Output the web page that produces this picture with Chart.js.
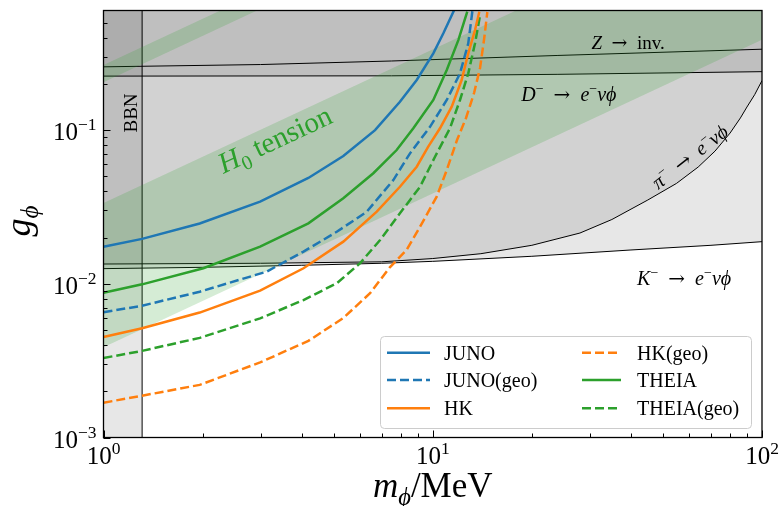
<!DOCTYPE html>
<html>
<head>
<meta charset="utf-8">
<script src="https://cdn.jsdelivr.net/npm/chart.js@4.4.1/dist/chart.umd.min.js"></script>
<style>
html,body{margin:0;padding:0;background:#ffffff;}
#box{position:relative;width:780px;height:506px;}
canvas{display:block;}
</style>
</head>
<body>
<div id="box"><canvas id="chart" width="780" height="506"></canvas></div>
<script>
// ---------------- data ----------------
const xRange = [1, 100];
const yRange = [0.001, 0.6];
const xMajorTicks = [1, 10, 100];
const xTickExponents = ['0', '1', '2'];
const yMajorTicks = [0.001, 0.01, 0.1];
const yTickExponents = ['\u22123', '\u22122', '\u22121'];

const mJUNO = [1, 1.31, 1.96, 2.99, 4.19, 5.35, 6.68, 7.95, 8.94, 10.04, 10.77, 11.6];
const gJUNO = [0.0174, 0.0196, 0.0247, 0.0342, 0.0488, 0.0678, 0.100, 0.153, 0.212, 0.316, 0.427, 0.60];

const mJUNOgeo = [1, 1.31, 1.96, 3.13, 4.05, 5.11, 6.30, 7.59, 8.53, 9.81, 11.03, 12.1, 12.82, 13.13, 13.2];
const gJUNOgeo = [0.00653, 0.0072, 0.00888, 0.0120, 0.0162, 0.0218, 0.0294, 0.0473, 0.0706, 0.105, 0.157, 0.234, 0.367, 0.547, 0.60];

const mHK = [1, 1.31, 1.96, 2.99, 4.05, 5.35, 6.76, 7.95, 8.94, 9.69, 10.52, 11.42, 12.24, 12.82, 13.44, 13.85];
const gHK = [0.00451, 0.00514, 0.0065, 0.00902, 0.01262, 0.0188, 0.02944, 0.0428, 0.0578, 0.078, 0.1028, 0.142, 0.2118, 0.316, 0.448, 0.589];

const mHKgeo = [1, 1.31, 1.96, 2.99, 4.19, 5.35, 6.45, 7.42, 8.33, 9.15, 10.28, 11.03, 11.85, 12.62, 13.35, 13.92, 14.31, 14.65];
const gHKgeo = [0.001684, 0.00187, 0.0022, 0.00308, 0.00425, 0.00599, 0.00868, 0.01286, 0.0166, 0.0235, 0.0369, 0.055, 0.0862, 0.1199, 0.1743, 0.2535, 0.3857, 0.5865];

const mTHEIA = [1, 1.31, 2.01, 2.99, 4.19, 5.35, 6.60, 7.77, 8.73, 10.04, 11.03, 11.96, 12.73];
const gTHEIA = [0.00875, 0.00992, 0.01262, 0.01743, 0.02474, 0.036, 0.0524, 0.0742, 0.1028, 0.157, 0.246, 0.385, 0.589];

const mTHEIAgeo = [1, 1.31, 1.96, 2.99, 4.05, 5.11, 6.01, 6.92, 7.95, 9.15, 10.16, 11.28, 12.1, 12.82, 13.44, 13.92];
const gTHEIAgeo = [0.00329, 0.00366, 0.00445, 0.00596, 0.00784, 0.01008, 0.01359, 0.01928, 0.02876, 0.0428, 0.0671, 0.1028, 0.157, 0.234, 0.367, 0.557];

// exclusion-region boundaries
const mBBN = [1, 1.31];
const mK = [1, 2, 4, 7, 10, 20, 40, 70, 100];
const gK = [0.01255, 0.0128, 0.0132, 0.0136, 0.0140, 0.0151, 0.0166, 0.0178, 0.0188];
const mPi = [1, 3, 7, 10, 14, 20, 28, 35, 45, 55, 64, 72, 80, 86, 90, 95, 100];
const gPi = [0.01345, 0.0136, 0.0139, 0.0146, 0.0157, 0.0178, 0.0214, 0.0262, 0.0351, 0.0450, 0.0575, 0.073, 0.0957, 0.12, 0.1413, 0.17, 0.21];
const mD = [1, 7.5, 24, 100];
const gD = [0.2245, 0.2255, 0.2306, 0.240];
const mZ = [1, 3, 7.5, 24, 100];
const gZ = [0.258, 0.267, 0.2816, 0.306, 0.336];

// H0 tension bands
const mH0 = [1, 100];
const gH0MainLow = [0.00387, 0.387];
const gH0MainHigh = [0.0335, 3.35];
const gH0ThinLow = [0.205, 20.5];
const gH0ThinHigh = [0.265, 26.5];

// ---------------- styling ----------------
const BLUE = '#1f77b4', ORANGE = '#ff7f0e', GREEN = '#2ca02c';
const GRAYFILL = 'rgba(0,0,0,0.095)';
const GREENFILL = 'rgba(44,160,44,0.2)';
const SERIF = "'Liberation Serif','DejaVu Serif',serif";
const DEJAVU = "'DejaVu Serif','Liberation Serif',serif";
const DASH = [9, 4];

function pts(ms, gs) { return ms.map((m, i) => ({ x: m, y: gs[i] })); }

function curve(label, ms, gs, color, dashed) {
  return { label, data: pts(ms, gs), borderColor: color, backgroundColor: color,
    borderWidth: 2.5, borderDash: dashed ? DASH : [], fill: false, order: 1,
    pointRadius: 0, clip: 0, isCurve: true };
}
function region(data, fillMode, order, lineColor, fillColor) {
  return { label: '', data, fill: fillMode, backgroundColor: fillColor || 'transparent',
    borderColor: lineColor || 'transparent', borderWidth: lineColor ? 1 : 0,
    order, pointRadius: 0, clip: 0 };
}

const datasets = [
  curve('JUNO', mJUNO, gJUNO, BLUE, false),
  curve('JUNO(geo)', mJUNOgeo, gJUNOgeo, BLUE, true),
  curve('HK', mHK, gHK, ORANGE, false),
  curve('HK(geo)', mHKgeo, gHKgeo, ORANGE, true),
  curve('THEIA', mTHEIA, gTHEIA, GREEN, false),
  curve('THEIA(geo)', mTHEIAgeo, gTHEIAgeo, GREEN, true),
  region(pts(mBBN, [yRange[1], yRange[1]]), 'start', 30, null, GRAYFILL),
  region(pts(mK, gK), 'end', 29, '#000', GRAYFILL),
  region(pts(mPi, gPi), 'end', 28, '#000', GRAYFILL),
  region(pts(mD, gD), 'end', 27, '#000', GRAYFILL),
  region(pts(mZ, gZ), false, 26, '#000', null),
  region(pts([mBBN[1], mBBN[1]], yRange), false, 25, '#000', null),
  region(pts(mH0, gH0MainLow), false, 20, null, null),
  region(pts(mH0, gH0MainHigh), '-1', 20, null, GREENFILL),
  region(pts(mH0, gH0ThinLow), false, 19, null, null),
  region(pts(mH0, gH0ThinHigh), '-1', 19, null, GREENFILL)
];

// ---------------- text helpers ----------------
function fnt(size, italic, fam) { return (italic ? 'italic ' : '') + size + 'px ' + (fam || SERIF); }
function runSize(r, size) { return r.s ? size * 0.7 : size; }
function runsWidth(ctx, runs, size) {
  let w = 0;
  for (const r of runs) { ctx.font = fnt(runSize(r, size), r.i, r.f); w += ctx.measureText(r.t).width; }
  return w;
}
function drawRuns(ctx, runs, x, y, size, color, align) {
  const w = runsWidth(ctx, runs, size);
  let cx = align === 'center' ? x - w / 2 : (align === 'right' ? x - w : x);
  ctx.fillStyle = color; ctx.textAlign = 'left'; ctx.textBaseline = 'alphabetic';
  for (const r of runs) {
    const s = runSize(r, size);
    ctx.font = fnt(s, r.i, r.f);
    const dy = r.s === 'sup' ? -size * 0.4 : (r.s === 'sub' ? size * 0.22 : 0);
    ctx.fillText(r.t, cx, y + dy);
    cx += ctx.measureText(r.t).width;
  }
}
const ARROW = { t: '\u2002\u2192\u2002', f: DEJAVU };
function decayRuns(parent) {
  return [{ t: parent, i: true }, { t: '\u2212', s: 'sup' }, ARROW, { t: 'e', i: true },
    { t: '\u2212', s: 'sup' }, { t: '\u03BD\u03D5', i: true }];
}

function minorTicks(min, max) {
  const out = [];
  for (let e = Math.floor(Math.log10(min)); e <= Math.ceil(Math.log10(max)); e++) {
    for (let k = 2; k <= 9; k++) {
      const v = k * Math.pow(10, e);
      if (v > min * 1.0001 && v < max * 0.9999) out.push(v);
    }
  }
  return out;
}

const overlay = {
  id: 'overlay',
  afterDatasetsDraw(chart) {
    const ctx = chart.ctx, xs = chart.scales.x, ys = chart.scales.y, a = chart.chartArea;
    ctx.save();
    ctx.beginPath(); ctx.rect(a.left, a.top, a.right - a.left, a.bottom - a.top); ctx.clip();
    // BBN
    ctx.save();
    ctx.translate(xs.getPixelForValue(1.268), ys.getPixelForValue(0.1292));
    ctx.rotate(-Math.PI / 2);
    drawRuns(ctx, [{ t: 'BBN' }], 0, 0, 19, '#000', 'center');
    ctx.restore();
    // H0 tension, parallel to band
    const ang = Math.atan2(ys.getPixelForValue(gH0MainHigh[1]) - ys.getPixelForValue(gH0MainHigh[0]),
      xs.getPixelForValue(mH0[1]) - xs.getPixelForValue(mH0[0]));
    ctx.save();
    ctx.translate(xs.getPixelForValue(3.41), ys.getPixelForValue(0.0765));
    ctx.rotate(ang);
    drawRuns(ctx, [{ t: 'H', i: true }, { t: '0', s: 'sub' }, { t: ' tension' }], 0, 0, 29, GREEN, 'center');
    ctx.restore();
    // Z -> inv.
    drawRuns(ctx, [{ t: 'Z', i: true }, ARROW, { t: 'inv.' }], xs.getPixelForValue(39.2), ys.getPixelForValue(0.337), 19, '#000', 'center');
    // D
    drawRuns(ctx, decayRuns('D'), xs.getPixelForValue(25.9), ys.getPixelForValue(0.1547), 20, '#000', 'center');
    // K
    drawRuns(ctx, decayRuns('K'), xs.getPixelForValue(58), ys.getPixelForValue(0.00982), 20, '#000', 'center');
    // pi (rotated)
    ctx.save();
    ctx.translate(xs.getPixelForValue(62.1), ys.getPixelForValue(0.062));
    ctx.rotate(-38 * Math.PI / 180);
    drawRuns(ctx, decayRuns('\u03C0'), 0, 0, 20, '#000', 'center');
    ctx.restore();
    ctx.restore();
  },
  afterDraw(chart) {
    const ctx = chart.ctx, xs = chart.scales.x, ys = chart.scales.y, a = chart.chartArea;
    ctx.save();
    // ticks (inside)
    ctx.strokeStyle = '#000'; ctx.lineWidth = 1;
    ctx.beginPath();
    for (const v of xMajorTicks) { const p = Math.round(xs.getPixelForValue(v)) + 0.5; ctx.moveTo(p, a.bottom); ctx.lineTo(p, a.bottom - 7); }
    for (const v of minorTicks(xRange[0], xRange[1])) { const p = Math.round(xs.getPixelForValue(v)) + 0.5; ctx.moveTo(p, a.bottom); ctx.lineTo(p, a.bottom - 4); }
    for (const v of yMajorTicks) { const p = Math.round(ys.getPixelForValue(v)) + 0.5; ctx.moveTo(a.left, p); ctx.lineTo(a.left + 7, p); }
    for (const v of minorTicks(yRange[0], yRange[1])) { const p = Math.round(ys.getPixelForValue(v)) + 0.5; ctx.moveTo(a.left, p); ctx.lineTo(a.left + 4, p); }
    ctx.stroke();
    // frame
    ctx.lineWidth = 1.3;
    ctx.strokeRect(a.left, a.top, a.right - a.left, a.bottom - a.top);
    // tick labels
    xMajorTicks.forEach((v, i) => {
      drawRuns(ctx, [{ t: '10' }, { t: xTickExponents[i], s: 'sup' }], xs.getPixelForValue(v), a.bottom + 26, 25, '#000', 'center');
    });
    yMajorTicks.forEach((v, i) => {
      drawRuns(ctx, [{ t: '10' }, { t: yTickExponents[i], s: 'sup' }], a.left - 7, ys.getPixelForValue(v) + 10, 25, '#000', 'right');
    });
    // axis titles
    drawRuns(ctx, [{ t: 'm', i: true }, { t: '\u03D5', i: true, s: 'sub' }, { t: '/MeV' }], (a.left + a.right) / 2, 497, 35, '#000', 'center');
    ctx.save();
    ctx.translate(30, 221);
    ctx.rotate(-Math.PI / 2);
    drawRuns(ctx, [{ t: 'g', i: true }, { t: '\u03D5', i: true, s: 'sub' }], 0, 0, 36, '#000', 'center');
    ctx.restore();
    // legend
    const lx = 380.5, ly = 336.5, lw = 371, lh = 92, r = 4;
    ctx.beginPath();
    ctx.moveTo(lx + r, ly); ctx.lineTo(lx + lw - r, ly); ctx.arcTo(lx + lw, ly, lx + lw, ly + r, r);
    ctx.lineTo(lx + lw, ly + lh - r); ctx.arcTo(lx + lw, ly + lh, lx + lw - r, ly + lh, r);
    ctx.lineTo(lx + r, ly + lh); ctx.arcTo(lx, ly + lh, lx, ly + lh - r, r);
    ctx.lineTo(lx, ly + r); ctx.arcTo(lx, ly, lx + r, ly, r); ctx.closePath();
    ctx.fillStyle = 'rgba(255,255,255,0.8)'; ctx.fill();
    ctx.strokeStyle = '#cccccc'; ctx.lineWidth = 1; ctx.stroke();
    const curves = chart.data.datasets.filter(d => d.isCurve);
    const colX = [[387, 430, 444], [582, 621, 637]];
    const rowY = [352.7, 380, 408.3];
    curves.forEach((d, k) => {
      const c = colX[Math.floor(k / 3)], yy = rowY[k % 3];
      ctx.beginPath(); ctx.strokeStyle = d.borderColor; ctx.lineWidth = 2.5;
      ctx.setLineDash(d.borderDash || []);
      ctx.moveTo(c[0], yy); ctx.lineTo(c[1], yy); ctx.stroke();
      ctx.setLineDash([]);
      drawRuns(ctx, [{ t: d.label }], c[2], yy + 7, 20, '#000', 'left');
    });
    ctx.restore();
  }
};

new Chart(document.getElementById('chart').getContext('2d'), {
  type: 'line',
  data: { datasets },
  options: {
    responsive: false, animation: false, devicePixelRatio: 1,
    layout: { padding: { left: 0, right: 18, top: 10.5, bottom: 0 } },
    plugins: { legend: { display: false }, tooltip: { enabled: false } },
    elements: { point: { radius: 0 }, line: { tension: 0 } },
    scales: {
      x: { type: 'logarithmic', min: xRange[0], max: xRange[1], grid: { display: false },
        border: { display: false }, ticks: { display: false },
        afterFit(s) { s.height = 68.5; } },
      y: { type: 'logarithmic', min: yRange[0], max: yRange[1], grid: { display: false },
        border: { display: false }, ticks: { display: false },
        afterFit(s) { s.width = 103.5; } }
    }
  },
  plugins: [overlay]
});
</script>
</body>
</html>
